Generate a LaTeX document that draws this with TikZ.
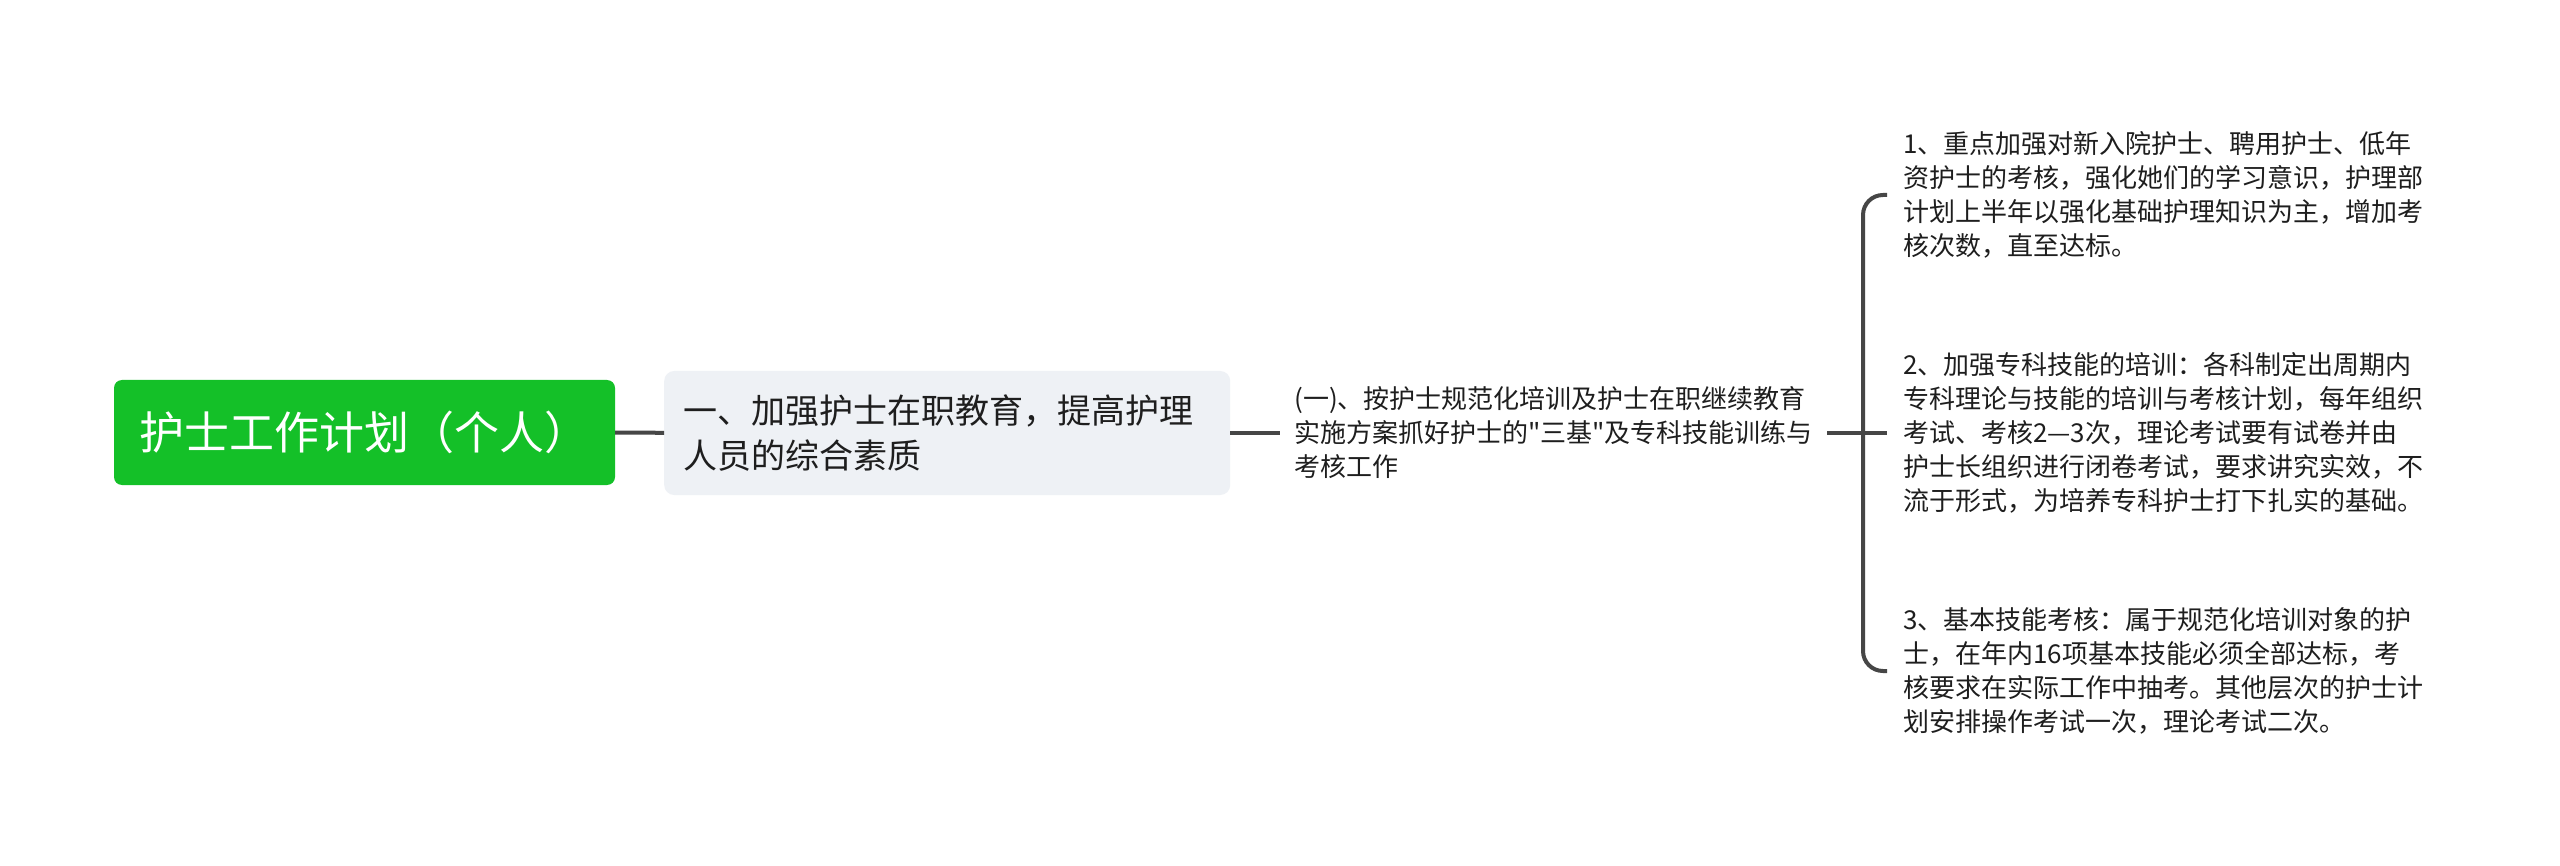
\documentclass[tikz,border=0pt]{standalone}
\usepackage{fontspec}
\newfontfamily\cjk{Noto Sans CJK SC}
\definecolor{rootgreen}{RGB}{20,192,40}
\definecolor{lonefill}{RGB}{238,241,245}
\definecolor{txt}{RGB}{30,30,30}
\definecolor{edgecol}{RGB}{70,70,70}
\tikzset{
  rootbox/.style={fill=rootgreen, rounded corners=8pt, minimum width=501pt, minimum height=105pt,
    text=white, font=\cjk\fontsize{45pt}{54pt}\selectfont, inner sep=0pt},
  lonebox/.style={fill=lonefill, rounded corners=10pt, minimum height=124pt, text width=528pt,
    inner xsep=19pt, inner ysep=0pt, align=left, text=txt, font=\cjk\fontsize{34pt}{45pt}\selectfont},
  ltwo/.style={inner xsep=14pt, inner ysep=0pt, align=left, text=txt, font=\cjk\fontsize{26pt}{34pt}\selectfont},
  itembox/.style={inner xsep=16pt, inner ysep=0pt, align=left, text=txt, font=\cjk\fontsize{26pt}{34pt}\selectfont},
  conn/.style={draw=edgecol, line width=4pt}
}
\begin{document}
\begin{tikzpicture}[x=1pt,y=-1pt]
\useasboundingbox[fill=white] (0,0) rectangle (2560,866);
\node[rootbox] (root) at (364.5,432.5) {护士工作计划（个人）};
\node[lonebox, anchor=west] (l1) at (664,433) {一、加强护士在职教育，提高护理\\人员的综合素质};
\node[ltwo, anchor=west] (l2) at (1280,433) {(一)、按护士规范化培训及护士在职继续教育\\实施方案抓好护士的"三基"及专科技能训练与\\考核工作};
\coordinate (bx) at (1863,433);
\node[itembox, anchor=west] (i1) at (1887,195) {1、重点加强对新入院护士、聘用护士、低年\\资护士的考核，强化她们的学习意识，护理部\\计划上半年以强化基础护理知识为主，增加考\\核次数，直至达标。};
\node[itembox, anchor=west] (i2) at (1887,433) {2、加强专科技能的培训：各科制定出周期内\\专科理论与技能的培训与考核计划，每年组织\\考试、考核2—3次，理论考试要有试卷并由\\护士长组织进行闭卷考试，要求讲究实效，不\\流于形式，为培养专科护士打下扎实的基础。};
\node[itembox, anchor=west] (i3) at (1887,671) {3、基本技能考核：属于规范化培训对象的护\\士，在年内16项基本技能必须全部达标，考\\核要求在实际工作中抽考。其他层次的护士计\\划安排操作考试一次，理论考试二次。};
\draw[conn] (root) -- (l1);
\draw[conn] (l1) -- (l2);
\draw[conn] (l2.east) -- (i2.west);
\draw[conn, rounded corners=20pt] (i1.west) -| (bx) |- (i3.west);
\end{tikzpicture}
\end{document}
